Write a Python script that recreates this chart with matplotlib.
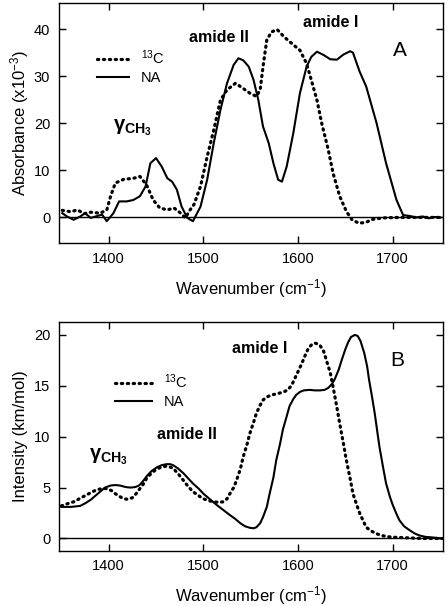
import numpy as np
import matplotlib
matplotlib.use("Agg")
import matplotlib.pyplot as plt

plt.rcParams['font.family'] = ['Liberation Sans', 'DejaVu Sans']
plt.rcParams['mathtext.fontset'] = 'custom'
plt.rcParams['mathtext.rm'] = 'Liberation Sans'
plt.rcParams['mathtext.bf'] = 'Liberation Sans:bold'
plt.rcParams['mathtext.default'] = 'regular'

# ---------------- Panel A (experimental absorbance) ----------------
a_na_x = [1351, 1356, 1363, 1370, 1375, 1381, 1388, 1393, 1398, 1405, 1411, 1419,
          1426, 1433, 1439, 1444, 1450, 1456, 1462, 1467, 1472, 1477, 1483, 1489,
          1497, 1504, 1511, 1518, 1525, 1532, 1537, 1542, 1548, 1553, 1558, 1563,
          1569, 1574, 1579, 1583, 1588, 1595, 1602, 1609, 1614, 1620, 1627, 1634,
          1641, 1648, 1655, 1658, 1665, 1672, 1683, 1693, 1704, 1711, 1718, 1725,
          1732, 1738, 1744, 1750]
a_na_y = [0.9, 0.2, -0.5, 0.2, 0.9, -0.1, 0.3, 0.6, -0.8, 0.9, 3.4, 3.4,
          3.7, 4.5, 6.6, 11.5, 12.6, 10.8, 8.3, 7.6, 5.9, 2.3, -0.1, -0.8,
          2.3, 8.0, 15.8, 22.8, 28.5, 32.4, 33.8, 33.4, 32.0, 29.2, 25.0, 19.3,
          15.8, 11.5, 8.0, 7.6, 10.8, 17.9, 26.4, 32.0, 34.1, 35.2, 34.5, 33.6,
          33.5, 34.6, 35.3, 35.0, 31.0, 27.8, 20.0, 11.5, 3.7, 0.5, 0.3, 0.0,
          0.2, -0.2, 0.1, 0.0]

a_c13_x = [1351, 1360, 1367, 1374, 1381, 1391, 1398, 1402, 1407, 1416, 1426, 1433,
           1440, 1447, 1454, 1462, 1469, 1476, 1481, 1486, 1490, 1497, 1504, 1511,
           1518, 1525, 1534, 1542, 1549, 1556, 1560, 1563, 1567, 1572, 1578, 1585,
           1593, 1602, 1609, 1614, 1620, 1625, 1632, 1637, 1644, 1651, 1657, 1664,
           1671, 1679, 1690, 1708, 1730, 1750]
a_c13_y = [1.5, 1.2, 1.6, 0.8, 1.1, 0.9, 1.6, 4.5, 7.3, 8.1, 8.3, 8.7,
           6.9, 3.7, 2.0, 1.6, 2.0, 0.9, -0.1, 1.6, 2.7, 6.6, 12.9, 18.6,
           24.9, 27.1, 28.5, 27.4, 26.4, 25.7, 27.1, 32.0, 37.7, 39.4, 39.9, 38.4,
           37.0, 35.5, 32.7, 29.2, 24.9, 20.0, 14.3, 9.4, 4.5, 1.3, -0.5, -1.2,
           -1.1, -0.4, -0.1, 0.0, 0.0, 0.0]

# ---------------- Panel B (calculated intensity) ----------------
b_na_x = [1350, 1360, 1370, 1376, 1381, 1386, 1391, 1396, 1402, 1407, 1412, 1418,
          1423, 1428, 1432, 1436, 1440, 1445, 1451, 1456, 1461, 1465, 1468, 1473,
          1479, 1484, 1489, 1495, 1500, 1507, 1514, 1521, 1528, 1534, 1539, 1544,
          1549, 1553, 1556, 1560, 1563, 1567, 1570, 1574, 1577, 1581, 1584, 1588,
          1591, 1595, 1598, 1602, 1606, 1612, 1618, 1623, 1628, 1632, 1636, 1639,
          1643, 1646, 1650, 1653, 1656, 1660, 1663, 1666, 1670, 1673, 1675, 1678,
          1681, 1684, 1686, 1690, 1693, 1697, 1700, 1704, 1707, 1712, 1718, 1723,
          1728, 1735, 1742, 1752]
b_na_y = [3.1, 3.1, 3.2, 3.5, 3.8, 4.2, 4.6, 5.0, 5.2, 5.25, 5.2, 5.05,
          5.0, 5.05, 5.2, 5.6, 6.1, 6.6, 7.0, 7.2, 7.3, 7.3, 7.2, 6.9,
          6.4, 5.9, 5.4, 4.9, 4.4, 3.85, 3.3, 2.8, 2.3, 1.9, 1.5, 1.2,
          1.05, 1.0, 1.1, 1.5, 2.1, 3.1, 4.4, 6.0, 7.7, 9.3, 10.7, 12.0,
          13.0, 13.7, 14.1, 14.4, 14.55, 14.6, 14.55, 14.55, 14.6, 14.8, 15.2, 15.7,
          16.6, 17.5, 18.6, 19.3, 19.8, 20.0, 19.9, 19.4, 18.2, 16.9, 15.6, 14.0,
          12.3, 10.3, 9.0, 6.9, 5.4, 4.1, 3.3, 2.4, 1.8, 1.2, 0.8, 0.5,
          0.3, 0.15, 0.1, 0.0]

b_c13_x = [1350, 1356, 1363, 1370, 1377, 1383, 1388, 1393, 1398, 1403, 1407, 1412,
           1416, 1420, 1425, 1429, 1433, 1437, 1440, 1445, 1449, 1455, 1460, 1464,
           1468, 1473, 1479, 1484, 1489, 1495, 1500, 1506, 1511, 1516, 1521, 1525,
           1528, 1532, 1535, 1539, 1542, 1546, 1549, 1553, 1556, 1560, 1563, 1567,
           1572, 1577, 1581, 1585, 1589, 1593, 1596, 1600, 1604, 1608, 1611, 1615,
           1618, 1621, 1623, 1627, 1630, 1634, 1637, 1641, 1644, 1648, 1651, 1655,
           1658, 1662, 1665, 1669, 1672, 1677, 1682, 1688, 1693, 1700, 1707, 1730,
           1752]
b_c13_y = [3.2, 3.4, 3.6, 3.95, 4.3, 4.6, 4.8, 4.9, 4.9, 4.7, 4.4, 4.1,
           3.9, 3.85, 4.0, 4.4, 4.9, 5.4, 5.9, 6.4, 6.7, 7.0, 7.1, 7.05,
           6.9, 6.4, 5.7, 5.1, 4.6, 4.2, 3.9, 3.7, 3.6, 3.55, 3.6, 3.9,
           4.4, 5.0, 5.7, 6.8, 8.0, 9.2, 10.3, 11.4, 12.3, 13.1, 13.6, 13.9,
           14.1, 14.2, 14.3, 14.4, 14.6, 15.0, 15.6, 16.4, 17.2, 18.1, 18.7, 19.1,
           19.2, 19.1, 19.0, 18.4, 17.5, 16.3, 14.9, 12.9, 11.3, 9.3, 7.7, 5.9,
           4.4, 3.3, 2.5, 1.7, 1.1, 0.75, 0.5, 0.3, 0.2, 0.12, 0.1, 0.0,
           0.0]

x_ticks = [1400, 1500, 1600, 1700]
a_yticks = [0, 10, 20, 30, 40]
b_yticks = [0, 5, 10, 15, 20]
labels_series = ['$^{13}$C', 'NA']

fig = plt.figure(figsize=(4.48, 6.06), dpi=100)
ax1 = fig.add_axes([0.1306, 0.5985, 0.858, 0.397])
ax2 = fig.add_axes([0.1306, 0.0913, 0.858, 0.377])

dot_style = dict(color='black', linewidth=2.3, linestyle=(0, (0.4, 1.45)),
                 dash_capstyle='round')
solid_style = dict(color='black', linewidth=1.5, linestyle='-')

def style_axes(ax, yticks):
    ax.set_xticks(x_ticks)
    ax.set_yticks(yticks)
    ax.tick_params(direction='in', length=5, width=1, top=True, right=True,
                   labelsize=10.5, pad=6)
    for s in ax.spines.values():
        s.set_linewidth(1.0)
    ax.axhline(0, color='black', linewidth=1.0, zorder=1)

# Panel A
l1, = ax1.plot(a_c13_x, a_c13_y, **dot_style)
l2, = ax1.plot(a_na_x, a_na_y, **solid_style)
ax1.set_xlim(1347, 1753)
ax1.set_ylim(-5.5, 45.6)
style_axes(ax1, a_yticks)
ax1.set_xlabel('Wavenumber (cm$^{-1}$)', fontsize=12, labelpad=8)
ax1.set_ylabel('Absorbance (x10$^{-3}$)', fontsize=12, labelpad=2)
ax1.legend([l1, l2], labels_series, loc='center left', bbox_to_anchor=(0.1, 0.733),
           frameon=False, fontsize=10.5, handlelength=2.2, handletextpad=0.8,
           borderpad=0, borderaxespad=0, labelspacing=0.25)
ax1.text(1516, 38.2, 'amide II', fontsize=11.5, fontweight='bold', ha='center', va='center')
ax1.text(1634, 41.5, 'amide I', fontsize=11.5, fontweight='bold', ha='center', va='center')
ax1.text(1425, 19.0, r'$\mathbf{\gamma_{CH_3}}$', fontsize=14.5, ha='center', va='center')
ax1.text(1708, 35.5, 'A', fontsize=15, ha='center', va='center')

# Panel B
m1, = ax2.plot(b_c13_x, b_c13_y, **dot_style)
m2, = ax2.plot(b_na_x, b_na_y, **solid_style)
ax2.set_xlim(1347, 1753)
ax2.set_ylim(-1.2, 21.25)
style_axes(ax2, b_yticks)
ax2.set_xlabel('Wavenumber (cm$^{-1}$)', fontsize=12, labelpad=8)
ax2.set_ylabel('Intensity (km/mol)', fontsize=12, labelpad=4)
ax2.legend([m1, m2], labels_series, loc='center left', bbox_to_anchor=(0.148, 0.70),
           frameon=False, fontsize=10.5, handlelength=2.5, handletextpad=0.8,
           borderpad=0, borderaxespad=0, labelspacing=0.3)
ax2.text(1560, 18.7, 'amide I', fontsize=11.5, fontweight='bold', ha='center', va='center')
ax2.text(1483, 10.2, 'amide II', fontsize=11.5, fontweight='bold', ha='center', va='center')
ax2.text(1400, 8.0, r'$\mathbf{\gamma_{CH_3}}$', fontsize=14.5, ha='center', va='center')
ax2.text(1705, 17.5, 'B', fontsize=15, ha='center', va='center')

fig.savefig('out.png', dpi=100)
